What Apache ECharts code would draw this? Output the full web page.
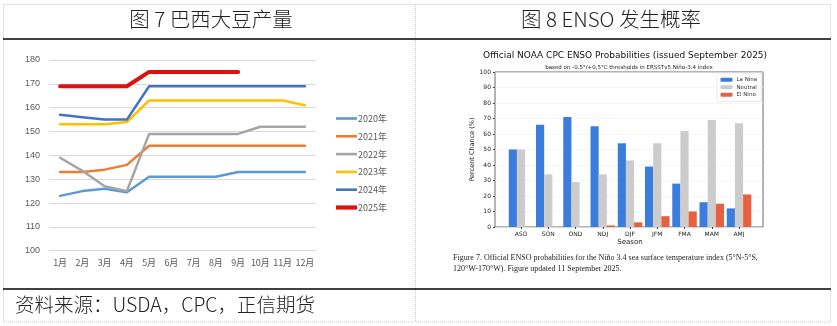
<!DOCTYPE html>
<html><head><meta charset="utf-8">
<script src="https://cdn.jsdelivr.net/npm/echarts@6/dist/echarts.min.js"></script>
<style>html,body{margin:0;padding:0;background:#fff}#c{width:837px;height:326px}</style>
</head><body><div id="c"></div>
<script>
// ---- Left chart data (巴西大豆产量, 百万吨) ----
const months = ['1月','2月','3月','4月','5月','6月','7月','8月','9月','10月','11月','12月'];
const y2020 = [123,125,126,124.5,131,131,131,131,133,133,133,133];
const y2021 = [133,133,134,136,144,144,144,144,144,144,144,144];
const y2022 = [139,133.5,127,125,149,149,149,149,149,152,152,152];
const y2023 = [153,153,153,154,163,163,163,163,163,163,163,161];
const y2024 = [157,156,155,155,169,169,169,169,169,169,169,169];
const y2025 = [169,169,169,169,175,175,175,175,175];
// ---- Right chart data (ENSO probabilities, %) ----
const seasons = ['ASO','SON','OND','NDJ','DJF','JFM','FMA','MAM','AMJ'];
const laNina  = [50,66,71,65,54,39,28,16,12];
const neutral = [50,34,29,34,43,54,62,69,67];
const elNino  = [0,0,0,1,3,7,10,15,21];

const chart = echarts.init(document.getElementById('c'));
const cjk = '"Noto Sans CJK SC", sans-serif';
const dv = '"DejaVu Sans", sans-serif';
function line(name, data, color, w){
  return {name, type:'line', data, xAxisIndex:0, yAxisIndex:0, symbol:'none',
    lineStyle:{color, width:w, join:'round', cap:'round'}, itemStyle:{color}, z:w>3?5:3};
}
const thin = 'path://M0,0h21v2.6h-21z';
const thick = 'path://M0,0h21v4.2h-21z';
chart.setOption({
  animation:false,
  grid:[
    {left:49, top:60, width:267, height:190.7},
    {left:495, top:72, width:268, height:155, show:true, borderColor:'#444', borderWidth:0.8, backgroundColor:'transparent'},
    {left:507.4, top:72, width:245.25, height:155}
  ],
  xAxis:[
    {type:'category', gridIndex:0, data:months, boundaryGap:true,
     axisLine:{show:false}, axisTick:{show:false},
     axisLabel:{interval:0, fontFamily:cjk, fontSize:9, color:'#595959', margin:7}},
    {type:'value', gridIndex:1, min:0, max:1, show:false},
    {type:'category', gridIndex:2, data:seasons, boundaryGap:true,
     axisLine:{show:false}, axisTick:{show:true, alignWithLabel:true, length:2, lineStyle:{color:'#444'}},
     axisLabel:{interval:0, fontFamily:dv, fontSize:6, color:'#222', margin:4},
     name:'Season', nameLocation:'middle', nameGap:12,
     nameTextStyle:{fontFamily:dv, fontSize:7, color:'#222'}}
  ],
  yAxis:[
    {type:'value', gridIndex:0, min:100, max:180, interval:10,
     axisLine:{show:false}, axisTick:{show:false},
     axisLabel:{fontFamily:'"Liberation Sans", sans-serif', fontSize:9, color:'#595959', margin:9},
     splitLine:{lineStyle:{color:'#d9d9d9', width:1}}},
    {type:'value', gridIndex:1, min:0, max:100, interval:10,
     axisLine:{show:false}, axisTick:{show:true, length:2, lineStyle:{color:'#444'}},
     axisLabel:{fontFamily:dv, fontSize:6, color:'#222', margin:4},
     splitLine:{lineStyle:{color:'#eeeeee', width:0.6}},
     name:'Percent Chance (%)', nameLocation:'middle', nameGap:14,
     nameTextStyle:{fontFamily:dv, fontSize:6.5, color:'#222'}},
    {type:'value', gridIndex:2, min:0, max:100, show:false}
  ],
  legend:[
    {data:[{name:'2020年',icon:thin},{name:'2021年',icon:thin},{name:'2022年',icon:thin},
           {name:'2023年',icon:thin},{name:'2024年',icon:thin},{name:'2025年',icon:thick}],
     orient:'vertical', left:331, top:109, itemWidth:21, itemHeight:10, itemGap:8.8,
     textStyle:{fontFamily:cjk, fontSize:9, color:'#595959', padding:[0,0,0,-4]}},
    {data:['La Nina','Neutral','El Nino'], orient:'vertical', left:717, top:73,
     itemWidth:12, itemHeight:4, itemGap:1, padding:[3.5,4,3.5,3.5],
     backgroundColor:'#fff', borderColor:'#ddd', borderWidth:0.6, borderRadius:2,
     textStyle:{fontFamily:dv, fontSize:5.5, lineHeight:6.5, color:'#333', padding:[0,0,0,-1]}}
  ],
  series:[
    line('2020年', y2020, '#5B9BD5', 2.5),
    line('2021年', y2021, '#ED7D31', 2.5),
    line('2022年', y2022, '#A5A5A5', 2.5),
    line('2023年', y2023, '#FFC000', 2.5),
    line('2024年', y2024, '#4472C4', 2.5),
    line('2025年', y2025, '#E01010', 4),
    {name:'La Nina', type:'bar', xAxisIndex:2, yAxisIndex:2, data:laNina, itemStyle:{color:'#3b7ddd'}, barGap:'0%', barCategoryGap:'10%'},
    {name:'Neutral', type:'bar', xAxisIndex:2, yAxisIndex:2, data:neutral, itemStyle:{color:'#cccccc'}, barGap:'0%', barCategoryGap:'10%'},
    {name:'El Nino', type:'bar', xAxisIndex:2, yAxisIndex:2, data:elNino, itemStyle:{color:'#e9603f'}, barGap:'0%', barCategoryGap:'10%'}
  ],
  graphic:[
    {type:'rect', shape:{x:3.5,y:4.5,width:827,height:317.5}, style:{fill:'none', stroke:'#c8c8c8', lineWidth:1, lineDash:[1,1]}},
    {type:'line', shape:{x1:415.5,y1:4,x2:415.5,y2:322}, style:{stroke:'#c8c8c8', lineWidth:1, lineDash:[1,1]}},
    {type:'line', shape:{x1:3,y1:39,x2:831,y2:39}, style:{stroke:'#000', lineWidth:1.6}},
    {type:'line', shape:{x1:3,y1:289,x2:831,y2:289}, style:{stroke:'#000', lineWidth:1.6}},
    {type:'text', x:211, y:19.5, style:{text:'图 7 巴西大豆产量', font:'300 20.5px '+cjk, fill:'#222', textAlign:'center', textVerticalAlign:'middle'}},
    {type:'text', x:611, y:19.5, style:{text:'图 8 ENSO 发生概率', font:'300 20.5px '+cjk, fill:'#222', textAlign:'center', textVerticalAlign:'middle'}},
    {type:'text', x:15, y:305, style:{text:'资料来源：USDA，CPC，正信期货', font:'300 19.5px '+cjk, fill:'#222', textVerticalAlign:'middle'}},
    {type:'text', x:625, y:56, style:{text:'Official NOAA CPC ENSO Probabilities (issued September 2025)', font:'9px '+dv, fill:'#111', textAlign:'center', textVerticalAlign:'middle'}},
    {type:'text', x:629, y:67.5, style:{text:'based on -0.5°/+0.5°C thresholds in ERSSTv5 Niño-3.4 index', font:'5.5px '+dv, fill:'#222', textAlign:'center', textVerticalAlign:'middle'}},
    {type:'text', x:453, y:258, style:{text:'Figure 7. Official ENSO probabilities for the Niño 3.4 sea surface temperature index (5°N-5°S,', font:'8px "Liberation Serif", serif', fill:'#222', textVerticalAlign:'middle'}},
    {type:'text', x:453, y:269, style:{text:'120°W-170°W). Figure updated 11 September 2025.', font:'8px "Liberation Serif", serif', fill:'#222', textVerticalAlign:'middle'}}
  ]
});
</script></body></html>
